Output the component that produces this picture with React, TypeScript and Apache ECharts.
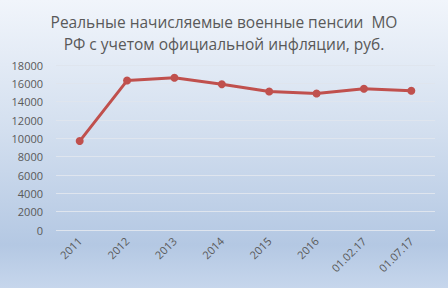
import React, { useEffect, useRef } from "react";
import * as echarts from "echarts";

const categories = ["2011", "2012", "2013", "2014", "2015", "2016", "01.02.17", "01.07.17"];
const pensions = [9700, 16300, 16600, 15900, 15100, 14900, 15400, 15200];
const titleText = "Реальные начисляемые военные пенсии  МО\nРФ с учетом официальной инфляции, руб.";

export default function App() {
  const ref = useRef<HTMLDivElement>(null);
  useEffect(() => {
    if (!ref.current) return;
    const chart = echarts.init(ref.current, null, { renderer: "svg" });
    chart.setOption({
      animation: false,
      backgroundColor: {
        type: "linear",
        x: 0,
        y: 0,
        x2: 0,
        y2: 1,
        colorStops: [
          { offset: 0, color: "#f1f5fb" },
          { offset: 0.45, color: "#d3dfef" },
          { offset: 0.85, color: "#b4c8e3" },
          { offset: 1, color: "#c6d6ec" },
        ],
      },
      title: {
        text: titleText,
        left: "center",
        top: 6,
        textStyle: {
          fontFamily: "Open Sans",
          fontSize: 15.5,
          fontWeight: "normal",
          color: "#595959",
          lineHeight: 22,
        },
      },
      grid: { left: 56, right: 13, top: 65, bottom: 58, containLabel: false },
      xAxis: {
        type: "category",
        data: categories,
        boundaryGap: true,
        axisLine: { show: false },
        axisTick: { show: false },
        axisLabel: {
          rotate: 45,
          interval: 0,
          color: "#595959",
          fontFamily: "Open Sans",
          fontSize: 11,
          margin: 9,
        },
      },
      yAxis: {
        type: "value",
        min: 0,
        max: 18000,
        interval: 2000,
        axisLine: { show: false },
        axisTick: { show: false },
        axisLabel: {
          color: "#595959",
          fontFamily: "Open Sans",
          fontSize: 11,
          margin: 13,
          formatter: (v: number) => String(v),
        },
        splitLine: { lineStyle: { color: "#dfe5ee", width: 1 } },
      },
      series: [
        {
          type: "line",
          data: pensions,
          symbol: "circle",
          symbolSize: 8,
          lineStyle: { color: "#c0504d", width: 3 },
          itemStyle: { color: "#c0504d" },
        },
      ],
    });
    return () => chart.dispose();
  }, []);
  return (
    <div
      ref={ref}
      style={{
        width: 448,
        height: 288,
        position: "fixed",
        left: 0,
        top: 0,
        boxSizing: "border-box",
      }}
    />
  );
}
